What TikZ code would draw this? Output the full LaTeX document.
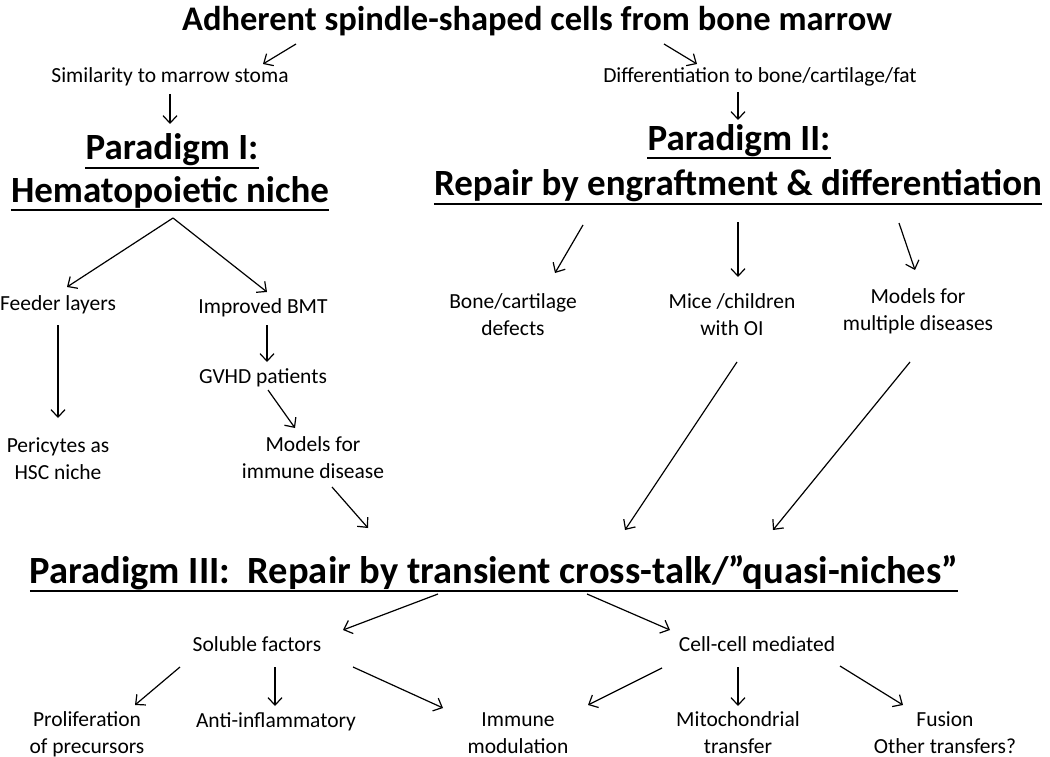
\documentclass[tikz,border=0pt]{standalone}
\usepackage{fontspec}
\setmainfont{Carlito}
\usetikzlibrary{arrows.meta}
\tikzset{
  txt/.style={font=\fontsize{21.5}{26.5}\selectfont, inner sep=0pt, align=center, anchor=base},
  head/.style={font=\fontsize{37}{46}\selectfont\bfseries, inner sep=0pt, anchor=base},
  ttl/.style={font=\fontsize{34.5}{40}\selectfont\bfseries, inner sep=0pt, anchor=base},
  arr/.style={-{Straight Barb[length=7.5pt,width=14pt]}, line width=1.2pt},
  uline/.style={line width=2.7pt}
}
\begin{document}
\begin{tikzpicture}[x=1pt,y=-1pt]
\useasboundingbox[fill=white] (0,0) rectangle (1050,757);
% nodes (multi-line nodes are placed by the baseline of their last line)
\node[ttl] (title) at (537,31) {Adherent spindle-shaped cells from bone marrow};
\node[txt] (sim) at (170,83) {Similarity to marrow stoma};
\node[txt] (diff) at (760,83) {Differentiation to bone/cartilage/fat};
\node[head] (p1a) at (172,160) {Paradigm I:};
\node[head] (p1b) at (170,202) {Hematopoietic niche};
\node[head] (p2a) at (739,150) {Paradigm II:};
\node[head] (p2b) at (738,196) {Repair by engraftment \& differentiation};
\node[txt] (feeder) at (58,310) {Feeder layers};
\node[txt] (bmt) at (263,313) {Improved BMT};
\node[txt] (gvhd) at (263,383) {GVHD patients};
\node[txt] (peri) at (58,479) {Pericytes as\\HSC niche};
\node[txt] (mod1) at (313,478) {Models for\\immune disease};
\node[txt] (bone) at (513,335) {Bone/cartilage\\defects};
\node[txt] (mice) at (732,335) {Mice /children\\with OI};
\node[txt] (mult) at (918,330) {Models for\\multiple diseases};
\node[head, font=\fontsize{38.5}{46}\selectfont\bfseries] (p3) at (494,583) {Paradigm III:\ \ Repair by transient cross-talk/”quasi-niches”};
\node[txt] (sol) at (257,651) {Soluble factors};
\node[txt] (cell) at (757,651) {Cell-cell mediated};
\node[txt] (prolif) at (87,753) {Proliferation\\of precursors};
\node[txt] (anti) at (276,727) {Anti-inflammatory};
\node[txt] (immune) at (518,753) {Immune\\modulation};
\node[txt] (mito) at (738,753) {Mitochondrial\\transfer};
\node[txt] (fusion) at (945,753) {Fusion\\Other transfers?};
% underlines
\foreach \n in {p1a,p1b,p2a,p2b,p3}
  \draw[uline] ([yshift=-8pt]\n.base west) -- ([yshift=-8pt]\n.base east);
% arrows
\draw[arr] ([shift={(-241,13)}]title.base) -- ([shift={(93,-19)}]sim.base);
\draw[arr] ([shift={(127,13)}]title.base) -- ([shift={(-63,-19)}]diff.base);
\draw[arr] ([shift={(0,11)}]sim.base) -- ([shift={(-2,-36)}]p1a.base);
\draw[arr] ([shift={(-22,9)}]diff.base) -- ([shift={(-1,-30)}]p2a.base);
\draw[arr] ([shift={(3,16)}]p1b.base) -- ([shift={(9,-23)}]feeder.base);
\draw[arr] ([shift={(3,16)}]p1b.base) -- ([shift={(4,-21)}]bmt.base);
\draw[arr] ([shift={(0,15)}]feeder.base) -- ([shift={(0,-61)}]peri.base);
\draw[arr] ([shift={(4,12)}]bmt.base) -- ([shift={(4,-21)}]gvhd.base);
\draw[arr] ([shift={(5,7)}]gvhd.base) -- ([shift={(-18,-50)}]mod1.base);
\draw[arr] ([shift={(19,9)}]mod1.base) -- ([shift={(-126,-55)}]p3.base);
\draw[arr] ([shift={(-155,29)}]p2b.base) -- ([shift={(42,-62)}]bone.base);
\draw[arr] ([shift={(0,26)}]p2b.base) -- ([shift={(6,-58)}]mice.base);
\draw[arr] ([shift={(161,27)}]p2b.base) -- ([shift={(-3,-60)}]mult.base);
\draw[arr] ([shift={(5,27)}]mice.base) -- ([shift={(131,-53)}]p3.base);
\draw[arr] ([shift={(-8,32)}]mult.base) -- ([shift={(279,-53)}]p3.base);
\draw[arr] ([shift={(-56,11)}]p3.base) -- ([shift={(86,-21)}]sol.base);
\draw[arr] ([shift={(93,11)}]p3.base) -- ([shift={(-87,-21)}]cell.base);
\draw[arr] ([shift={(-77,16)}]sol.base) -- ([shift={(48,-48)}]prolif.base);
\draw[arr] ([shift={(18,16)}]sol.base) -- ([shift={(-1,-21)}]anti.base);
\draw[arr] ([shift={(96,16)}]sol.base) -- ([shift={(-75,-45)}]immune.base);
\draw[arr] ([shift={(-95,17)}]cell.base) -- ([shift={(70,-48)}]immune.base);
\draw[arr] ([shift={(-19,16)}]cell.base) -- ([shift={(0,-47)}]mito.base);
\draw[arr] ([shift={(83,15)}]cell.base) -- ([shift={(-42,-48)}]fusion.base);
\end{tikzpicture}
\end{document}
